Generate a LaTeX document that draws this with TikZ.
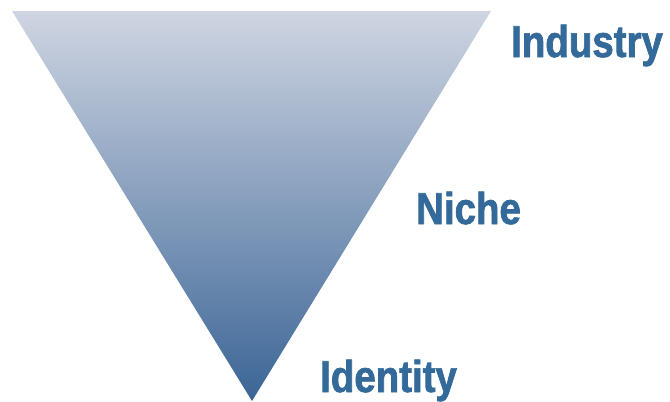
\documentclass[tikz,border=0pt]{standalone}
\usepackage{fontspec}
\newfontfamily\lblfont[FakeStretch=0.86,FakeBold=1.6]{Liberation Sans Bold}
\definecolor{lbl}{HTML}{336A99}
\definecolor{topc}{HTML}{CFD5E2}
\definecolor{botc}{HTML}{3B6596}
\tikzset{
  lvl/.style={anchor=base west, inner sep=0pt, text=lbl, font=\lblfont\fontsize{44.7}{50}\selectfont}
}
\begin{document}
\begin{tikzpicture}[x=1pt,y=-1pt]
\useasboundingbox (0,0) rectangle (670,402);
\coordinate (tl) at (12,11);
\coordinate (tr) at (491,11);
\coordinate (ap) at (252,401);
\shade[top color=topc, bottom color=botc] (tl) -- (tr) -- (ap) -- cycle;
\node[lvl] (industry) at (511,57) {Industry};
\node[lvl] (niche) at (416,224) {Niche};
\node[lvl] (identity) at (320,392) {Identity};
\end{tikzpicture}
\end{document}
